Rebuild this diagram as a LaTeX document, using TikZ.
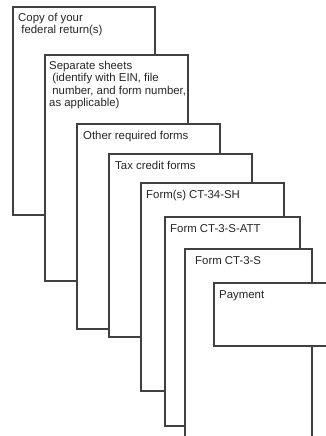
\documentclass[tikz,border=0pt]{standalone}
\usepackage{fontspec}
\setmainfont{Liberation Sans}
\begin{document}
\begin{tikzpicture}[x=1pt,y=-1pt,
  sheet/.style={draw=black!75, line width=1.1pt, fill=white, anchor=north west, inner sep=0pt, outer sep=0pt},
  lbl/.style={anchor=north west, inner sep=0pt, align=left, font=\fontsize{11.4}{12.4}\selectfont, text=black!85}]
\useasboundingbox (0,0) rectangle (325,436);
\newcommand\mksheet[5]{\node[sheet, minimum width=#3-#1, minimum height=#4-#2] (#5) at (#1,#2) {};}
\mksheet{13}{7}{155}{215}{s1}
\node[lbl] (t1) at ([xshift=5pt,yshift=-6pt]s1.north west) {Copy of your\\\hspace{0.28em}federal return(s)};
\mksheet{45}{55}{188}{281}{s2}
\node[lbl] (t2) at ([xshift=4pt,yshift=-6pt]s2.north west) {Separate sheets\\\hspace{0.28em}(identify with EIN, file\\\hspace{0.28em}number, and form number,\\as applicable)};
\mksheet{77}{124}{220}{329}{s3}
\node[lbl] (t3) at ([xshift=6pt,yshift=-7pt]s3.north west) {Other required forms};
\mksheet{109}{154}{252}{337}{s4}
\node[lbl] (t4) at ([xshift=6pt,yshift=-7pt]s4.north west) {Tax credit forms};
\mksheet{141}{183}{284}{391}{s5}
\node[lbl] (t5) at ([xshift=5pt,yshift=-7pt]s5.north west) {Form(s) CT-34-SH};
\mksheet{165}{217}{300}{426}{s6}
\node[lbl] (t6) at ([xshift=5pt,yshift=-7pt]s6.north west) {Form CT-3-S-ATT};
\mksheet{185}{249}{312}{445}{s7}
\node[lbl] (t7) at ([xshift=10pt,yshift=-7pt]s7.north west) {Form CT-3-S};
\mksheet{214}{283}{332}{346}{s8}
\node[lbl] (t8) at ([xshift=5pt,yshift=-7pt]s8.north west) {Payment};
\end{tikzpicture}
\end{document}
